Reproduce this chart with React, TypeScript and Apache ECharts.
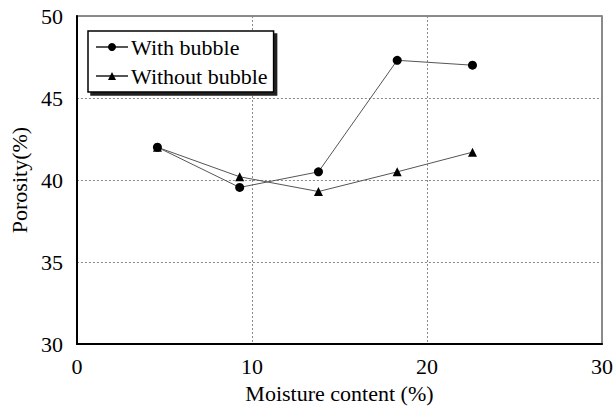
import React, { useEffect, useRef } from "react";
import * as echarts from "echarts";

const moisture = [4.6, 9.3, 13.8, 18.3, 22.6];
const withBubble = [42.0, 39.55, 40.5, 47.3, 47.0];
const withoutBubble = [42.0, 40.2, 39.3, 40.5, 41.7];
const seriesNames = ["With bubble", "Without bubble"];

const FONT = "'Liberation Serif', 'Times New Roman', serif";
const FS = 22;

export default function App() {
  const ref = useRef<HTMLDivElement>(null);
  useEffect(() => {
    if (!ref.current) return;
    const chart = echarts.init(ref.current, null, { renderer: "svg" });
    const pair = (ys: number[]) => moisture.map((x, i) => [x, ys[i]]);
    chart.setOption({
      animation: false,
      backgroundColor: "#fff",
      textStyle: { fontFamily: FONT, color: "#000" },
      grid: {
        left: 74,
        top: 16,
        width: 531,
        height: 331,
        show: true,
        borderColor: "#666",
        borderWidth: 1.5,
        backgroundColor: "transparent",
      },
      legend: {
        left: 88,
        top: 31,
        orient: "vertical",
        backgroundColor: "#fff",
        borderColor: "#000",
        borderWidth: 1.5,
        shadowColor: "#222",
        shadowBlur: 0,
        shadowOffsetX: 3,
        shadowOffsetY: 3,
        padding: [5, 6, 5, 7],
        itemGap: 7,
        itemWidth: 32,
        itemHeight: 10,
        textStyle: { fontFamily: FONT, fontSize: FS, color: "#000", padding: [0, 0, 0, -2] },
        data: seriesNames,
      },
      xAxis: {
        type: "value",
        min: 0,
        max: 30,
        interval: 10,
        name: "Moisture content (%)",
        nameLocation: "middle",
        nameGap: 36,
        nameTextStyle: { fontFamily: FONT, fontSize: FS, color: "#000" },
        axisLine: { show: true, lineStyle: { color: "#000", width: 2 } },
        axisTick: { show: false },
        axisLabel: { fontFamily: FONT, fontSize: FS, color: "#000", margin: 11 },
        splitLine: { show: true, lineStyle: { color: "#888", type: [2, 2], width: 1 } },
      },
      yAxis: {
        type: "value",
        min: 30,
        max: 50,
        interval: 5,
        name: "Porosity(%)",
        nameLocation: "middle",
        nameGap: 46,
        nameTextStyle: { fontFamily: FONT, fontSize: FS, color: "#000" },
        axisLine: { show: true, lineStyle: { color: "#000", width: 2 } },
        axisTick: { show: false },
        axisLabel: { fontFamily: FONT, fontSize: FS, color: "#000", margin: 14 },
        splitLine: { show: true, lineStyle: { color: "#888", type: [2, 2], width: 1 } },
      },
      series: [
        {
          name: seriesNames[0],
          type: "line",
          data: pair(withBubble),
          symbol: "circle",
          symbolSize: 9,
          itemStyle: { color: "#000" },
          lineStyle: { color: "#555", width: 1 },
        },
        {
          name: seriesNames[1],
          type: "line",
          data: pair(withoutBubble),
          symbol: "triangle",
          symbolSize: 9,
          itemStyle: { color: "#000" },
          lineStyle: { color: "#555", width: 1 },
        },
      ],
    });
    return () => chart.dispose();
  }, []);
  return <div ref={ref} style={{ width: 616, height: 409, position: "absolute", left: 0, top: 0 }} />;
}
